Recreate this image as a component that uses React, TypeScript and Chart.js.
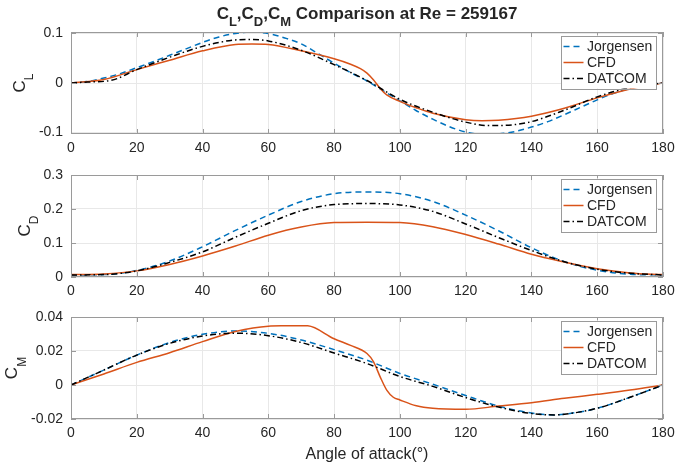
import React, { useEffect, useRef } from "react";
import { Chart, registerables } from "chart.js";

Chart.register(...registerables);

const FONT = '"Liberation Sans", Arial, Helvetica, sans-serif';
const TEXT = "#262626";
const GRID = "#e8e8e8";
const BOX = "#9a9a9a";
const BLUE = "#0072BD";
const ORANGE = "#D95319";
const BLACK = "#000000";

const seriesNames = ["Jorgensen", "CFD", "DATCOM"];
const xTicks = [0, 20, 40, 60, 80, 100, 120, 140, 160, 180];
const clTicks = [-0.1, 0, 0.1];
const cdTicks = [0, 0.1, 0.2, 0.3];
const cmTicks = [-0.02, 0, 0.02, 0.04];

// ---- C_L ----
const clJorAngles = [0, 5, 10, 15, 20, 25, 30, 35, 40, 45, 50, 55, 60, 65, 70, 75, 80, 85, 90, 95, 100, 105, 110, 115, 120, 125, 130, 135, 140, 145, 150, 155, 160, 165, 170, 175, 180];
const clJor = [0, 0.003, 0.01, 0.019, 0.031, 0.043, 0.056, 0.069, 0.082, 0.093, 0.1, 0.103, 0.1, 0.091, 0.079, 0.06, 0.04, 0.021, 0.004, -0.016, -0.036, -0.056, -0.073, -0.088, -0.099, -0.104, -0.103, -0.098, -0.089, -0.078, -0.064, -0.049, -0.034, -0.021, -0.011, -0.004, 0];
const clCfdAngles = [0, 10, 20, 30, 40, 50, 55, 60, 70, 80, 85, 88, 90, 92, 94, 96, 100, 105, 110, 120, 125, 130, 140, 150, 160, 170, 180];
const clCfd = [0, 0.007, 0.027, 0.046, 0.065, 0.078, 0.079, 0.078, 0.065, 0.049, 0.038, 0.029, 0.02, 0.006, -0.011, -0.024, -0.037, -0.05, -0.061, -0.074, -0.076, -0.075, -0.067, -0.051, -0.03, -0.012, 0];
const clDatAngles = [0, 5, 12, 20, 30, 40, 50, 55, 60, 70, 80, 90, 100, 110, 120, 127, 135, 140, 150, 160, 170, 180];
const clDat = [0, 0.002, 0.005, 0.027, 0.052, 0.074, 0.087, 0.088, 0.085, 0.066, 0.037, 0.005, -0.033, -0.059, -0.079, -0.086, -0.084, -0.078, -0.055, -0.028, -0.009, 0];

// ---- C_D ----
const cdAngles = [0, 10, 20, 30, 40, 50, 60, 70, 80, 90, 100, 110, 120, 130, 140, 150, 160, 170, 180];
const cdJor = [0.006, 0.007, 0.019, 0.047, 0.089, 0.137, 0.182, 0.222, 0.245, 0.25, 0.245, 0.222, 0.182, 0.136, 0.086, 0.045, 0.02, 0.008, 0.006];
const cdCfd = [0.007, 0.009, 0.018, 0.037, 0.062, 0.091, 0.123, 0.147, 0.16, 0.161, 0.16, 0.148, 0.125, 0.097, 0.067, 0.044, 0.024, 0.012, 0.007];
const cdDat = [0.006, 0.007, 0.018, 0.043, 0.074, 0.117, 0.158, 0.195, 0.213, 0.216, 0.212, 0.193, 0.156, 0.116, 0.078, 0.045, 0.023, 0.011, 0.006];

// ---- C_M ----
const cmJorAngles = [0, 10, 20, 30, 40, 50, 60, 70, 80, 90, 100, 110, 120, 130, 140, 147, 150, 160, 170, 180];
const cmJor = [0, 0.0088, 0.0176, 0.025, 0.0298, 0.0318, 0.0304, 0.0265, 0.0208, 0.0146, 0.0068, 0.0005, -0.0062, -0.0124, -0.0165, -0.0176, -0.0172, -0.0137, -0.0072, 0];
const cmCfdAngles = [0, 10, 20, 30, 40, 50, 60, 65, 70, 72, 80, 85, 90, 92, 94, 96, 98, 100, 105, 110, 120, 130, 140, 150, 160, 170, 180];
const cmCfd = [0, 0.0065, 0.0133, 0.019, 0.0255, 0.0315, 0.0346, 0.0348, 0.0349, 0.0348, 0.0272, 0.0233, 0.0185, 0.0136, 0.0048, -0.003, -0.0072, -0.0088, -0.0122, -0.0137, -0.0143, -0.0124, -0.0104, -0.0078, -0.0055, -0.003, 0];
const cmDatAngles = cmJorAngles;
const cmDat = [0, 0.0088, 0.0176, 0.0245, 0.0288, 0.0305, 0.029, 0.025, 0.0188, 0.0126, 0.005, -0.0008, -0.0074, -0.013, -0.0168, -0.0176, -0.0172, -0.0137, -0.0072, 0];

const titleParts: [string, boolean][] = [["C", false], ["L", true], [",C", false], ["D", true], [",C", false], ["M", true], [" Comparison at Re = 259167", false]];
const xLabel = "Angle of attack(\u00b0)";

const colors = [BLUE, ORANGE, BLACK];
const dashes = [[6, 4], [], [6, 3, 1.5, 3]];

type Spec = {
  top: number;
  height: number;
  padTop: number;
  xAxisH: number;
  yMin: number;
  yMax: number;
  yTicks: number[];
  ySub: string;
  series: { angles: number[]; values: number[] }[];
  title?: boolean;
  xlabel?: boolean;
};

const specs: Spec[] = [
  { top: 0, height: 160, padTop: 32, xAxisH: 26, yMin: -0.103, yMax: 0.103, yTicks: clTicks, ySub: "L", title: true,
    series: [{ angles: clJorAngles, values: clJor }, { angles: clCfdAngles, values: clCfd }, { angles: clDatAngles, values: clDat }] },
  { top: 160, height: 140, padTop: 15, xAxisH: 23, yMin: 0, yMax: 0.3, yTicks: cdTicks, ySub: "D",
    series: [{ angles: cdAngles, values: cdJor }, { angles: cdAngles, values: cdCfd }, { angles: cdAngles, values: cdDat }] },
  { top: 300, height: 170, padTop: 17, xAxisH: 51, yMin: -0.02, yMax: 0.04, yTicks: cmTicks, ySub: "M", xlabel: true,
    series: [{ angles: cmJorAngles, values: cmJor }, { angles: cmCfdAngles, values: cmCfd }, { angles: cmDatAngles, values: cmDat }] },
];

function makeDecor(spec: Spec) {
  return {
    id: "decor" + spec.ySub,
    afterDraw(chart: any) {
      const ctx = chart.ctx as CanvasRenderingContext2D;
      const ca = chart.chartArea;
      const xs = chart.scales.x;
      const ys = chart.scales.y;
      ctx.save();
      // box
      ctx.strokeStyle = BOX;
      ctx.lineWidth = 1;
      ctx.setLineDash([]);
      ctx.strokeRect(Math.round(ca.left) + 0.5, Math.round(ca.top) + 0.5, Math.round(ca.right - ca.left) - 1, Math.round(ca.bottom - ca.top) - 1);
      // inward ticks
      ctx.beginPath();
      for (const v of xTicks) {
        const px = Math.round(xs.getPixelForValue(v)) + 0.5;
        ctx.moveTo(px, ca.bottom);
        ctx.lineTo(px, ca.bottom - 5);
        ctx.moveTo(px, ca.top);
        ctx.lineTo(px, ca.top + 5);
      }
      for (const v of spec.yTicks) {
        const py = Math.round(ys.getPixelForValue(v)) + 0.5;
        ctx.moveTo(ca.left, py);
        ctx.lineTo(ca.left + 5, py);
        ctx.moveTo(ca.right, py);
        ctx.lineTo(ca.right - 5, py);
      }
      ctx.stroke();

      // legend
      const L = ca.right - 102;
      const T = ca.top + 3.5;
      ctx.fillStyle = "#ffffff";
      ctx.fillRect(L, T, 95, 53);
      ctx.strokeStyle = BOX;
      ctx.strokeRect(Math.round(L) + 0.5, Math.round(T) + 0.5, 95, 53);
      ctx.font = "14px " + FONT;
      ctx.textBaseline = "middle";
      ctx.textAlign = "left";
      const rows = [11, 27, 43];
      seriesNames.forEach((name, i) => {
        const y = T + rows[i];
        ctx.strokeStyle = colors[i];
        ctx.lineWidth = 1.5;
        ctx.setLineDash(dashes[i]);
        ctx.beginPath();
        ctx.moveTo(L + 2.5, y);
        ctx.lineTo(L + 22.5, y);
        ctx.stroke();
        ctx.setLineDash([]);
        ctx.fillStyle = TEXT;
        ctx.fillText(name, L + 26, y + 0.5);
      });

      // y label
      ctx.font = "14px " + FONT;
      let maxW = 0;
      for (const v of spec.yTicks) maxW = Math.max(maxW, ctx.measureText(String(v)).width);
      const subRight = ca.left - 8 - maxW - 5.5;
      const tx = subRight - 8.5;
      const cy = (ca.top + ca.bottom) / 2;
      ctx.save();
      ctx.translate(tx, cy);
      ctx.rotate(-Math.PI / 2);
      ctx.fillStyle = TEXT;
      ctx.textBaseline = "alphabetic";
      ctx.font = "17px " + FONT;
      const wC = ctx.measureText("C").width;
      ctx.font = "12px " + FONT;
      const wS = ctx.measureText(spec.ySub).width;
      const start = -(wC + wS) / 2;
      ctx.font = "17px " + FONT;
      ctx.fillText("C", start, 0);
      ctx.font = "12px " + FONT;
      ctx.fillText(spec.ySub, start + wC, 8.5);
      ctx.restore();

      // title
      if (spec.title) {
        const cx = (ca.left + ca.right) / 2;
        const mainF = "bold 17px " + FONT;
        const subF = "bold 13px " + FONT;
        let total = 0;
        const widths = titleParts.map(([t, sub]) => {
          ctx.font = sub ? subF : mainF;
          const w = ctx.measureText(t).width;
          total += w;
          return w;
        });
        let x = cx - total / 2;
        ctx.fillStyle = TEXT;
        ctx.textBaseline = "alphabetic";
        ctx.textAlign = "left";
        titleParts.forEach(([t, sub], i) => {
          ctx.font = sub ? subF : mainF;
          ctx.fillText(t, x, sub ? 26 : 19);
          x += widths[i];
        });
      }
      if (spec.xlabel) {
        const cx = (ca.left + ca.right) / 2;
        ctx.font = "16px " + FONT;
        ctx.fillStyle = TEXT;
        ctx.textAlign = "center";
        ctx.textBaseline = "alphabetic";
        ctx.fillText(xLabel, cx, 459 - spec.top);
      }
      ctx.restore();
    },
  };
}

function SubPlot({ spec }: { spec: Spec }) {
  const ref = useRef<HTMLCanvasElement | null>(null);
  useEffect(() => {
    if (!ref.current) return;
    const chart = new Chart(ref.current, {
      type: "line",
      data: {
        datasets: spec.series.map((s, i) => ({
          label: seriesNames[i],
          data: s.angles.map((a, j) => ({ x: a, y: s.values[j] })),
          borderColor: colors[i],
          backgroundColor: colors[i],
          borderWidth: 1.5,
          borderDash: dashes[i],
          pointRadius: 0,
          fill: false,
          cubicInterpolationMode: "monotone",
          order: 3 - i,
        })),
      },
      options: {
        animation: false,
        responsive: false,
        maintainAspectRatio: false,
        devicePixelRatio: 1,
        events: [],
        layout: { padding: { top: spec.padTop, right: 13, left: 0, bottom: 0 } },
        plugins: { legend: { display: false }, tooltip: { enabled: false }, title: { display: false } },
        scales: {
          x: {
            type: "linear",
            min: 0,
            max: 180,
            afterBuildTicks: (s: any) => {
              s.ticks = xTicks.map((v) => ({ value: v }));
            },
            afterFit: (s: any) => {
              s.height = spec.xAxisH;
              s.paddingLeft = 0;
              s.paddingRight = 0;
            },
            grid: { color: GRID, drawTicks: false, lineWidth: 1 },
            border: { display: false },
            ticks: {
              padding: 6,
              autoSkip: false,
              maxRotation: 0,
              color: TEXT,
              font: { family: FONT, size: 14 },
              callback: (v: any) => String(v),
            },
          },
          y: {
            type: "linear",
            min: spec.yMin,
            max: spec.yMax,
            afterBuildTicks: (s: any) => {
              s.ticks = spec.yTicks.map((v) => ({ value: v }));
            },
            afterFit: (s: any) => {
              s.width = 71;
              s.paddingTop = 0;
              s.paddingBottom = 0;
            },
            grid: { color: GRID, drawTicks: false, lineWidth: 1 },
            border: { display: false },
            ticks: {
              padding: 8,
              color: TEXT,
              font: { family: FONT, size: 14 },
              callback: (v: any) => String(v),
            },
          },
        },
      } as any,
      plugins: [makeDecor(spec)],
    });
    return () => chart.destroy();
  }, [spec]);
  return (
    <canvas
      ref={ref}
      width={676}
      height={spec.height}
      style={{ position: "absolute", left: 0, top: spec.top, width: 676, height: spec.height }}
    />
  );
}

export default function App() {
  return (
    <div style={{ position: "absolute", left: 0, top: 0, width: 676, height: 470, background: "#ffffff", overflow: "hidden" }}>
      {specs.map((s, i) => (
        <SubPlot key={i} spec={s} />
      ))}
    </div>
  );
}
